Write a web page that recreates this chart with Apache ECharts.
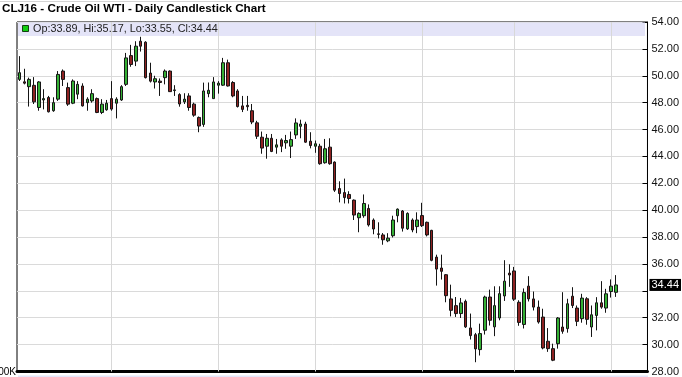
<!DOCTYPE html>
<html><head><meta charset="utf-8">
<script src="https://cdn.jsdelivr.net/npm/echarts@6/dist/echarts.min.js"></script>
<style>html,body{margin:0;padding:0;background:#fff}#c{width:682px;height:377px}</style>
</head><body><div id="c"></div>
<script>
const chartTitle = 'CLJ16 - Crude Oil WTI - Daily Candlestick Chart';
const dates = [
'2015-09-03','2015-09-04','2015-09-08','2015-09-09','2015-09-10','2015-09-11','2015-09-14','2015-09-15','2015-09-16','2015-09-17','2015-09-18','2015-09-21','2015-09-22','2015-09-23','2015-09-24','2015-09-25','2015-09-28','2015-09-29','2015-09-30',
'2015-10-01','2015-10-02','2015-10-05','2015-10-06','2015-10-07','2015-10-08','2015-10-09','2015-10-12','2015-10-13','2015-10-14','2015-10-15','2015-10-16','2015-10-19','2015-10-20','2015-10-21','2015-10-22','2015-10-23','2015-10-26','2015-10-27','2015-10-28','2015-10-29','2015-10-30',
'2015-11-02','2015-11-03','2015-11-04','2015-11-05','2015-11-06','2015-11-09','2015-11-10','2015-11-11','2015-11-12','2015-11-13','2015-11-16','2015-11-17','2015-11-18','2015-11-19','2015-11-20','2015-11-23','2015-11-24','2015-11-25','2015-11-27','2015-11-30',
'2015-12-01','2015-12-02','2015-12-03','2015-12-04','2015-12-07','2015-12-08','2015-12-09','2015-12-10','2015-12-11','2015-12-14','2015-12-15','2015-12-16','2015-12-17','2015-12-18','2015-12-21','2015-12-22','2015-12-23','2015-12-24','2015-12-28','2015-12-29','2015-12-30','2015-12-31',
'2016-01-04','2016-01-05','2016-01-06','2016-01-07','2016-01-08','2016-01-11','2016-01-12','2016-01-13','2016-01-14','2016-01-15','2016-01-19','2016-01-20','2016-01-21','2016-01-22','2016-01-25','2016-01-26','2016-01-27','2016-01-28','2016-01-29',
'2016-02-01','2016-02-02','2016-02-03','2016-02-04','2016-02-05','2016-02-08','2016-02-09','2016-02-10','2016-02-11','2016-02-12','2016-02-16','2016-02-17','2016-02-18','2016-02-19','2016-02-22','2016-02-23','2016-02-24','2016-02-25','2016-02-26','2016-02-29',
'2016-03-01','2016-03-02'
];
const opens = [
49.73,49.55,49.19,49.29,47.64,48.20,48.38,47.40,48.26,50.35,49.12,47.96,48.63,49.24,48.00,48.13,48.30,47.27,47.47,
48.30,47.96,48.20,49.36,51.50,51.09,52.57,52.50,50.20,49.54,49.60,49.86,50.35,48.90,48.60,48.06,48.50,47.89,46.90,46.38,48.67,48.30,
49.30,49.30,50.97,49.50,48.87,47.76,47.80,47.40,46.50,45.43,44.76,45.35,44.69,45.23,45.01,44.76,45.60,46.24,46.41,45.13,
44.76,44.76,43.53,44.69,43.58,41.61,41.31,41.17,40.75,39.44,39.59,40.13,39.27,38.24,38.16,37.72,38.10,39.59,39.94,38.61,39.27,38.78,
39.60,39.10,38.50,36.51,35.70,35.20,33.40,32.90,32.31,33.22,31.24,30.74,29.63,31.07,33.54,31.32,31.98,33.62,35.32,
35.48,33.15,31.50,34.35,33.40,32.79,32.05,30.25,29.70,30.07,31.31,31.19,33.60,32.72,31.93,33.41,31.31,32.17,33.11,32.72,
33.95,33.89
];
const closes = [
50.23,49.45,49.73,48.06,49.54,48.30,47.32,48.00,50.10,49.73,47.89,49.61,49.36,47.76,48.26,48.67,47.27,47.89,47.96,
47.52,48.26,49.19,51.33,50.84,52.20,52.20,49.86,49.60,49.78,49.50,50.35,48.82,48.95,47.90,48.26,47.64,47.07,46.26,48.87,48.92,49.54,
49.45,50.97,49.24,48.50,47.71,47.50,47.70,46.56,45.50,44.62,45.35,44.37,44.86,44.76,45.18,45.25,46.49,46.41,45.06,44.81,
44.94,43.46,44.57,43.46,41.49,41.24,40.94,40.87,39.64,39.76,40.50,38.90,38.60,38.20,37.80,37.92,39.27,40.08,38.66,39.76,38.53,39.27,
38.85,38.16,36.27,35.62,35.45,33.64,32.55,32.31,33.10,31.32,30.67,29.68,30.82,33.54,31.81,32.90,33.79,34.72,35.18,
33.38,31.65,33.87,33.40,32.79,31.68,29.75,29.70,28.84,31.98,30.99,33.04,32.91,31.73,33.46,31.88,32.22,33.11,32.79,33.78,
34.35,34.44
];
const lows = [
49.61,49.36,47.71,47.90,47.40,47.50,47.27,47.32,48.13,49.24,47.76,47.89,48.26,47.71,47.40,48.00,47.22,47.15,47.40,
47.40,46.83,48.13,49.24,50.67,50.72,51.80,49.80,49.50,49.05,48.50,49.36,48.80,48.50,47.70,47.90,47.40,46.95,45.80,46.20,48.40,48.30,
48.67,49.24,49.20,48.40,47.64,47.30,47.40,46.40,45.30,44.20,43.83,44.32,44.20,44.32,44.57,43.88,45.30,45.35,45.01,44.60,
44.27,43.38,43.46,43.38,41.36,40.58,40.50,40.50,39.27,38.36,39.44,38.78,38.21,37.90,37.43,37.62,37.97,39.10,38.41,38.53,38.36,38.29,
38.75,38.05,36.20,34.39,34.84,33.15,32.10,32.06,31.98,31.24,30.38,28.69,29.19,30.75,31.42,30.63,31.81,33.25,34.30,
33.25,31.40,31.20,33.21,32.54,31.56,29.65,29.46,28.77,29.70,30.81,30.89,32.72,31.38,31.63,31.48,30.57,31.06,32.67,32.37,
33.50,33.55
];
const highs = [
51.46,50.52,49.86,49.90,49.60,49.00,48.50,48.40,50.35,50.47,49.49,49.73,49.60,49.44,48.40,49.00,48.38,48.26,48.20,
49.60,48.40,49.30,51.70,52.30,52.57,52.90,52.57,50.97,50.00,49.80,50.47,50.40,49.30,48.70,48.70,48.70,48.00,46.97,49.49,49.50,49.90,
49.60,51.33,51.20,49.60,49.00,48.50,48.50,47.90,46.65,45.85,45.67,45.67,45.30,45.35,45.60,45.85,46.83,46.73,46.58,45.80,
45.18,44.94,45.30,45.35,43.63,42.15,42.35,41.41,40.80,39.84,41.17,40.43,39.39,39.10,38.30,38.29,39.59,40.13,40.01,39.84,39.39,39.84,
40.55,39.15,38.54,36.69,36.69,35.25,34.46,33.54,33.47,33.35,32.31,30.87,31.56,33.64,34.09,34.34,34.34,36.28,35.98,
35.78,33.30,34.18,35.09,33.95,33.28,32.67,31.23,30.07,32.05,33.90,33.41,34.27,32.91,33.78,33.53,32.91,33.53,34.72,34.15,
34.85,35.17
];
const yMin = 28, yMax = 54, yStep = 2;
const emptySlotsRight = 6;

const n = dates.length;
const last = n - 1;
const categories = dates.slice();
for (let i = 1; i <= emptySlotsRight; i++) categories.push('pad' + i);
const candleData = dates.map((d, i) => [opens[i], closes[i], lows[i], highs[i]]);
const monthStarts = dates.filter((d, i) => i > 0 && d.slice(0, 7) !== dates[i - 1].slice(0, 7));
const lastClose = closes[last];
const legendText = 'Op:' + opens[last].toFixed(2) + ', Hi:' + highs[last].toFixed(2) +
  ', Lo:' + lows[last].toFixed(2) + ', Cl:' + lastClose.toFixed(2);

const FONT = 'Liberation Sans, Arial, sans-serif';
const chart = echarts.init(document.getElementById('c'), null, {renderer: 'canvas'});
chart.setOption({
  animation: false,
  backgroundColor: '#ffffff',
  title: {
    text: chartTitle, left: 2, top: 3, padding: 0,
    textStyle: {fontSize: 11.7, fontWeight: 'bold', fontFamily: FONT, color: '#000'}
  },
  grid: {
    left: 17, right: 34, top: 22, bottom: 3, show: true,
    backgroundColor: '#fff', borderColor: '#000', borderWidth: 1
  },
  xAxis: {
    type: 'category', data: categories, boundaryGap: true,
    axisLabel: {show: false}, axisTick: {show: false}, splitLine: {show: false},
    axisLine: {lineStyle: {color: '#000', width: 3}}
  },
  yAxis: {
    type: 'value', position: 'right', min: yMin, max: yMax, interval: yStep, scale: true,
    axisLine: {show: true, lineStyle: {color: '#000', width: 1}},
    axisTick: {show: true, inside: true, length: 5, lineStyle: {color: '#000'}},
    axisLabel: {
      margin: 4, fontSize: 11, fontFamily: FONT, color: '#111',
      formatter: v => Math.abs(v - lastClose) < 0.8 ? '' : v.toFixed(2)
    },
    splitLine: {show: true, lineStyle: {color: '#dadada', width: 1}}
  },
  graphic: [
    {type: 'line', shape: {x1: 0, y1: 1.5, x2: 682, y2: 1.5}, style: {stroke: '#d4d4d4', lineWidth: 1}, z: 1},
    {type: 'rect', shape: {x: 18, y: 22.5, width: 627, height: 13.5}, style: {fill: '#e4e4f8'}, z: 1, silent: true},
    {type: 'rect', shape: {x: 22.5, y: 25.5, width: 6, height: 6}, style: {fill: '#11cc11', stroke: '#124012', lineWidth: 1}, z: 4},
    {type: 'text', x: 33, y: 29.5, style: {text: legendText, font: '10.8px ' + FONT, fill: '#222', verticalAlign: 'middle'}, z: 4},
    {type: 'rect', shape: {x: 18, y: 375.5, width: 630, height: 2}, style: {fill: '#e4e4f8'}, z: 1},
    {type: 'text', x: 16, y: 372, style: {text: '100K', font: '10px ' + FONT, fill: '#000', align: 'right', verticalAlign: 'middle'}, z: 4}
  ],
  series: [
    {
      type: 'line', data: [], silent: true, z: 2,
      markLine: {
        silent: true, symbol: 'none', z: 2, animation: false,
        label: {show: false},
        lineStyle: {color: '#d8d8d8', width: 1, type: 'solid'},
        data: monthStarts.map(d => ({xAxis: d}))
      }
    },
    {
      type: 'candlestick', data: candleData, barWidth: 3, z: 3,
      itemStyle: {
        color: '#35b035', color0: '#8e2222',
        borderColor: '#151515', borderColor0: '#151515', borderWidth: 1
      },
      markLine: {
        silent: true, symbol: 'none', z: 5, animation: false,
        lineStyle: {color: 'rgba(0,0,0,0)', width: 1, type: 'solid'},
        label: {
          show: true, position: 'end', distance: 2, formatter: lastClose.toFixed(2),
          backgroundColor: '#000', color: '#fff', padding: [1, 2, 0, 2],
          fontSize: 11, fontFamily: FONT
        },
        data: [{yAxis: lastClose}]
      }
    }
  ]
});
</script>
</body></html>
